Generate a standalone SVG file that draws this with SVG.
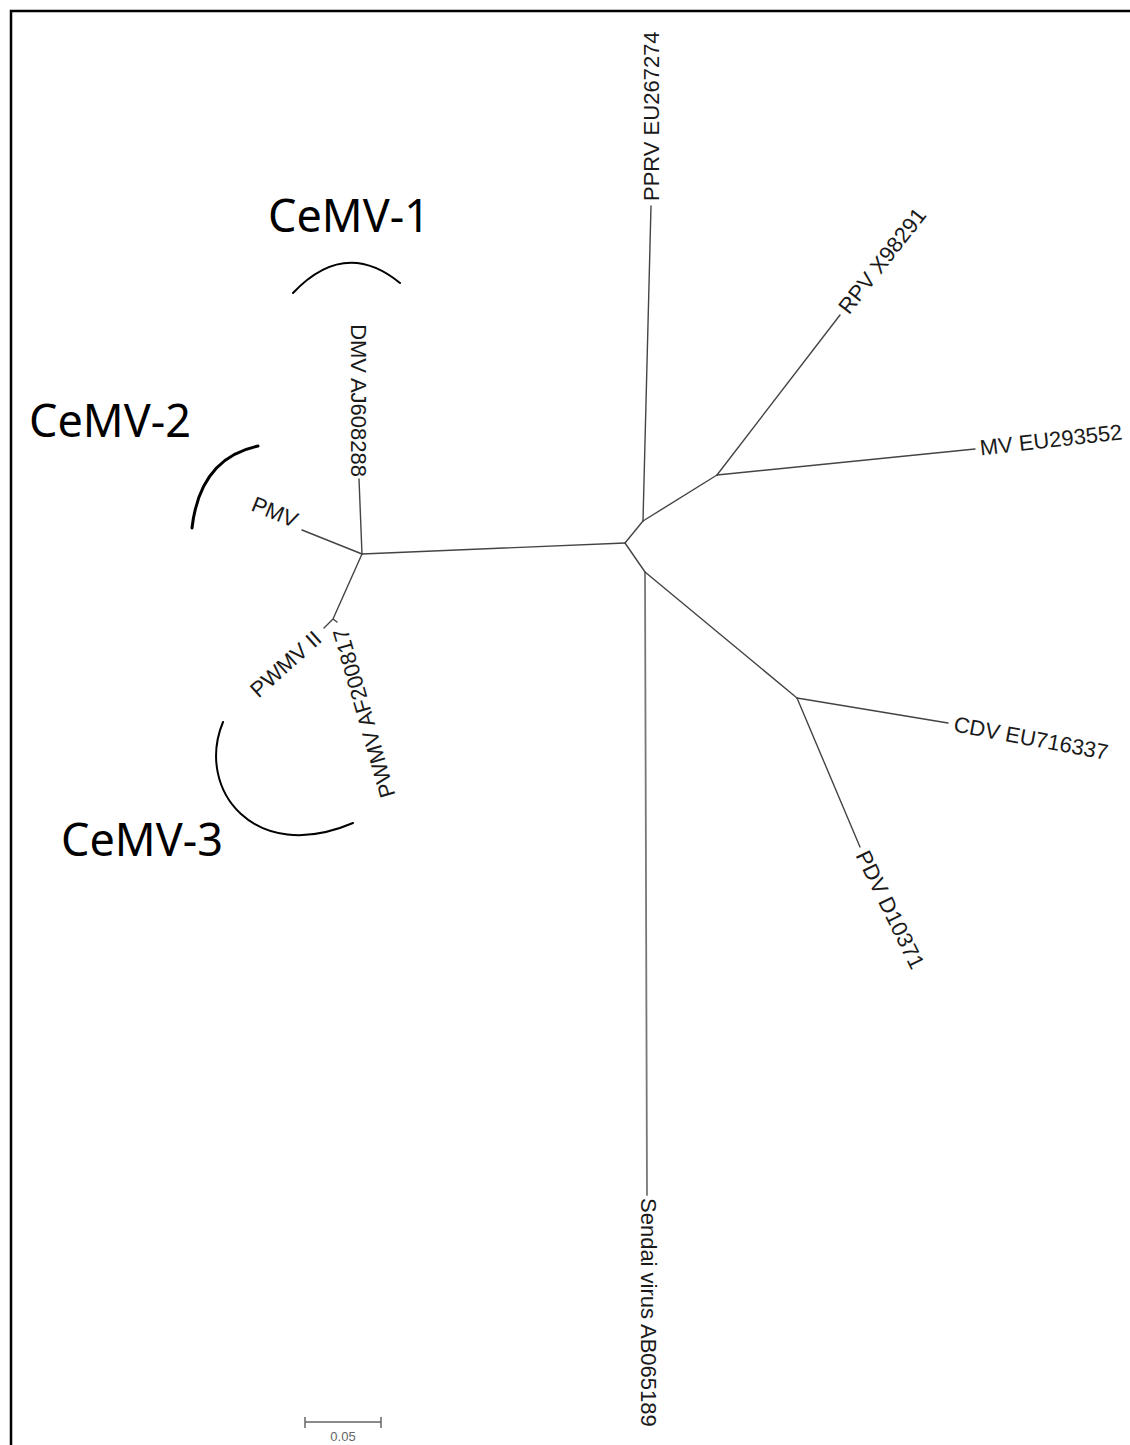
<svg xmlns="http://www.w3.org/2000/svg" width="1130" height="1445" viewBox="0 0 1130 1445">
<style>
.br{stroke:#444;stroke-width:1.4;fill:none;stroke-linecap:round}
.lb{font-family:"Liberation Sans",Arial,sans-serif;font-size:22px;fill:#1a1a1a}
.cl{font-family:"Noto Sans","Open Sans",sans-serif;font-size:45px;fill:#000}
.arc{stroke:#000;stroke-width:2;fill:none;stroke-linecap:round}
</style>
<rect width="1130" height="1445" fill="#fff"/>
<path d="M11 1445 V11 H1130" stroke="#000" stroke-width="2.5" fill="none"/>
<g id="connectors">
<path class="br" d="M362 554 L625 543"/>
<path class="br" d="M362 554 L359 479"/>
<path class="br" d="M362 554 L302 530"/>
<path class="br" d="M362 554 L333 619 M333 619 L324 628 M333 619 L337 622"/>
<path class="br" d="M625 543 L643 521"/>
<path class="br" d="M625 543 L645 572"/>
<path class="br" d="M643 521 L651 206"/>
<path class="br" d="M643 521 L717 475"/>
<path class="br" d="M717 475 L840 315"/>
<path class="br" d="M717 475 L975 449"/>
<path class="br" d="M645 572 L647 1195" style="stroke:#777;stroke-width:1.8"/>
<path class="br" d="M645 572 L797 698"/>
<path class="br" d="M797 698 L948 723"/>
<path class="br" d="M797 698 L860 847"/>
</g>
<g id="node-DMV"><text class="lb" dominant-baseline="central" text-anchor="end" transform="translate(358 477) rotate(90)">DMV AJ608288</text></g>
<g id="node-PMV"><text class="lb" dominant-baseline="central" text-anchor="end" transform="translate(297 521) rotate(22)">PMV</text></g>
<g id="node-PWMVII"><text class="lb" dominant-baseline="central" text-anchor="end" transform="translate(318 635) rotate(-42)">PWMV II</text></g>
<g id="node-PWMVAF"><text class="lb" dominant-baseline="central" text-anchor="end" transform="translate(340 629) rotate(-106)">PWMV AF200817</text></g>
<g id="node-PPRV"><text class="lb" dominant-baseline="central" text-anchor="start" transform="translate(651 201) rotate(-90)">PPRV EU267274</text></g>
<g id="node-RPV"><text class="lb" dominant-baseline="central" text-anchor="start" transform="translate(843 311) rotate(-52)">RPV X98291</text></g>
<g id="node-MV"><text class="lb" dominant-baseline="central" text-anchor="start" transform="translate(980 448) rotate(-6.5)">MV EU293552</text></g>
<g id="node-CDV"><text class="lb" dominant-baseline="central" text-anchor="start" transform="translate(954 724) rotate(10.5)">CDV EU716337</text></g>
<g id="node-PDV"><text class="lb" dominant-baseline="central" text-anchor="start" transform="translate(862 852) rotate(64)">PDV D10371</text></g>
<g id="node-Sendai"><text class="lb" dominant-baseline="central" text-anchor="start" transform="translate(648 1198) rotate(90)">Sendai virus AB065189</text></g>
<g id="clade-CeMV1">
<path class="arc" d="M293 293 Q345 238 400 283"/>
<text class="cl" x="268" y="232">CeMV-1</text>
</g>
<g id="clade-CeMV2">
<path class="arc" d="M192 528 Q200 458 258 446" style="stroke-width:3"/>
<text class="cl" x="29" y="437">CeMV-2</text>
</g>
<g id="clade-CeMV3">
<path class="arc" d="M223 722 C195 790 255 865 353 823"/>
<text class="cl" x="61" y="856">CeMV-3</text>
</g>
<g id="scale-bar">
<path d="M305 1422 H381 M305 1417 V1428 M381 1417 V1428" stroke="#666" stroke-width="1.5" fill="none"/>
<text x="343" y="1441" text-anchor="middle" font-family="Liberation Sans, Arial, sans-serif" font-size="13" fill="#666">0.05</text>
</g>
</svg>
